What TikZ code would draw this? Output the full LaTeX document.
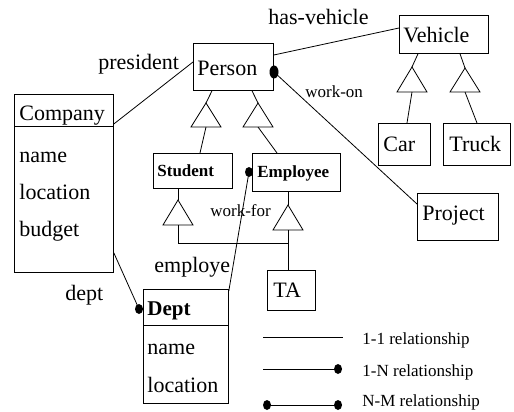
\documentclass[tikz,border=0pt]{standalone}
\usepackage{fontspec}
\setmainfont{Liberation Serif}
\usetikzlibrary{calc}
\begin{document}
\begin{tikzpicture}[x=1pt,y=-1pt,line width=0.8pt,
  box/.style={draw,inner sep=0,anchor=north west},
  big/.style={font=\rmfamily\fontsize{22}{24}\selectfont,inner sep=0,anchor=base west},
  bigb/.style={font=\rmfamily\fontsize{21}{24}\selectfont\bfseries,inner sep=0,anchor=base west},
  small/.style={font=\rmfamily\fontsize{17}{19}\selectfont,inner sep=0,anchor=base west},
  smallb/.style={font=\rmfamily\fontsize{17}{19}\selectfont\bfseries,inner sep=0,anchor=base west},
  dotmark/.style={fill=black}]
\useasboundingbox (0,0) rectangle (514,412);

% boxes
\node[box,minimum width=80pt,minimum height=47pt] (person) at (193,43) {};
\node[box,minimum width=89pt,minimum height=38pt] (vehicle) at (399,15) {};
\node[box,minimum width=99pt,minimum height=178pt] (company) at (14,94) {};
\node[box,minimum width=85pt,minimum height=114pt] (dept) at (143,289) {};
\node[box,minimum width=79pt,minimum height=35pt] (student) at (153,153) {};
\node[box,minimum width=88pt,minimum height=38pt] (employee) at (252,153) {};
\node[box,minimum width=52pt,minimum height=42pt] (car) at (378,123) {};
\node[box,minimum width=67pt,minimum height=42pt] (truck) at (443,123) {};
\node[box,minimum width=81pt,minimum height=47pt] (project) at (417,193) {};
\node[box,minimum width=48pt,minimum height=40pt] (ta) at (267,270) {};

% dividers
\draw ($(company.north west)+(0,32)$) -- ($(company.north east)+(0,32)$);
\draw ($(dept.north west)+(0,36)$) -- ($(dept.north east)+(0,36)$);

% box texts
\node[big] (tperson) at (197,75) {Person};
\node[big] (tvehicle) at (403,43) {Vehicle};
\node[big] (tcompany) at (19,121) {Company};
\node[big] (tcname) at (19,162) {name};
\node[big] (tcloc) at (19,199) {location};
\node[big] (tcbud) at (19,236) {budget};
\node[smallb] (tstudent) at (157,176) {Student};
\node[smallb] (temployee) at (257,177) {Employee};
\node[bigb] (tdept) at (147,315) {Dept};
\node[big] (tdname) at (147,354) {name};
\node[big] (tdloc) at (147,392) {location};
\node[big] (tcar) at (383,151) {Car};
\node[big] (ttruck) at (449,151) {Truck};
\node[big] (tproject) at (422,220) {Project};
\node[big] (tta) at (273,297) {TA};

% relationship labels
\node[big] (lpres) at (98,70) {president};
\node[big] (lhas) at (268,25) {has-vehicle};
\node[small] (lworkon) at (305,97) {work-on};
\node[small] (lworkfor) at (210,216) {work-for};
\node[big] (lemp) at (154,272) {employe};
\node[big] (ldept) at (65,300) {dept};

% triangles (apex and base centre)
\coordinate (t1) at (206,103); \coordinate (t1b) at (206,127);
\coordinate (t2) at (258,103); \coordinate (t2b) at (258,127);
\coordinate (t3) at (412,67);  \coordinate (t3b) at (412,92);
\coordinate (t4) at (465,68);  \coordinate (t4b) at (465,92);
\coordinate (t5) at (178,200); \coordinate (t5b) at (178,225);
\coordinate (t6) at (288,205); \coordinate (t6b) at (288,230);
\foreach \a/\b in {t1/t1b,t2/t2b,t3/t3b,t4/t4b,t5/t5b,t6/t6b}
  \draw (\a) -- ($(\b)+(-15,0)$) -- ($(\b)+(15,0)$) -- cycle;

% dot positions
\coordinate (pdot) at (274,72);
\coordinate (ddot) at (139,309);
\coordinate (edot) at (249,172);

% relationship connectors
\draw ($(company.north east)+(0,30)$) -- ($(person.north west)+(0,19)$);
\draw ($(person.north east)+(0,12)$) -- ($(vehicle.north west)+(0,13)$);
\draw (pdot) -- ($(project.north west)+(0,11)$);
\draw ($(company.south east)+(0,-20)$) -- (ddot);
\draw ($(dept.north east)+(0,2)$) -- (edot);

% isa connectors
\draw ($(person.south west)+(19,0)$) -- (t1);
\draw (t1b) -- ($(student.north west)+(47,0)$);
\draw ($(person.south west)+(59,0)$) -- (t2);
\draw (t2b) -- ($(employee.north west)+(25,0)$);
\draw ($(vehicle.south west)+(19,0)$) -- (t3);
\draw (t3b) -- ($(car.north west)+(29,0)$);
\draw ($(vehicle.south west)+(61,0)$) -- (t4);
\draw (t4b) -- ($(truck.north west)+(34,0)$);
\draw ($(student.south west)+(25,0)$) -- (t5);
\draw (t5b) |- ($(t6b)+(0,13)$);
\draw ($(employee.south west)+(36,0)$) -- (t6);
\draw (t6b) -- ($(ta.north west)+(21,0)$);

% dots
\fill[dotmark] (pdot) ellipse [x radius=4.5, y radius=6.5];
\fill[dotmark] (ddot) ellipse [x radius=4, y radius=5];
\fill[dotmark] (edot) ellipse [x radius=4, y radius=5];

% legend
\coordinate (l1a) at (263,337); \coordinate (l1b) at (343,337);
\coordinate (l2a) at (263,369); \coordinate (l2b) at (338,369);
\coordinate (l3a) at (267,405); \coordinate (l3b) at (338,405);
\draw (l1a) -- (l1b);
\draw (l2a) -- (l2b);
\draw (l3a) -- (l3b);
\fill[dotmark] (l2b) ellipse [x radius=4, y radius=5];
\fill[dotmark] (l3a) ellipse [x radius=4, y radius=5];
\fill[dotmark] (l3b) ellipse [x radius=4, y radius=5];
\node[small] (lg1) at (362,344) {1-1 relationship};
\node[small] (lg2) at (362,376) {1-N relationship};
\node[small] (lg3) at (362,406) {N-M relationship};
\end{tikzpicture}
\end{document}
